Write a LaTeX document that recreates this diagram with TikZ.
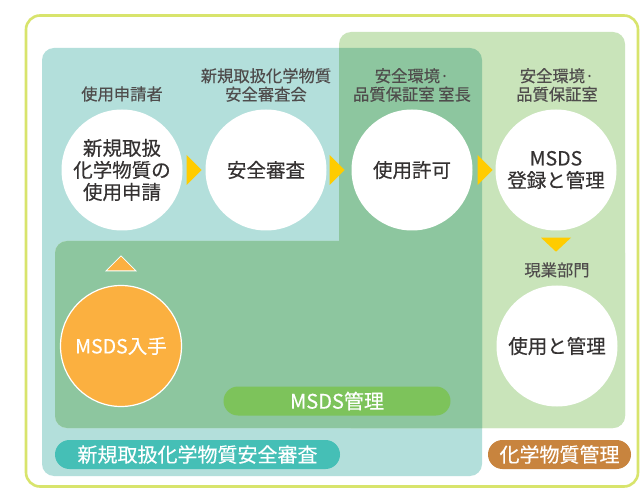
\documentclass[tikz,border=0pt]{standalone}
\usepackage{fontspec}
\setmainfont{Noto Sans CJK JP}[FakeBold=0.35]
\usetikzlibrary{calc}
\definecolor{framecol}{HTML}{D8E46C}
\definecolor{tealbg}{HTML}{B3DFDB}
\definecolor{lgreen}{HTML}{C9E4BA}
\definecolor{dgreen}{HTML}{8DC69F}
\definecolor{arrowy}{HTML}{FFCC00}
\definecolor{orangec}{HTML}{FBB040}
\definecolor{pillgreen}{HTML}{7DC35B}
\definecolor{pillteal}{HTML}{45BFB6}
\definecolor{pillbrown}{HTML}{C8843E}
\definecolor{txtdark}{HTML}{353232}
\definecolor{txtgray}{HTML}{4F4C4C}
\tikzset{
  bubble/.style={circle, fill=white, minimum size=121pt, inner sep=0pt, align=center,
    text=txtdark, font=\fontsize{19.5}{22}\selectfont},
  roletxt/.style={align=center, text=txtgray, inner sep=0pt, font=\fontsize{16.3}{18.5}\selectfont},
  pill/.style={rounded corners=14.5pt, minimum height=29pt, inner sep=0pt, text=white,
    font=\fontsize{20}{22}\selectfont},
  tri/.style={fill=arrowy}
}
\begin{document}
\begin{tikzpicture}[x=1pt,y=-1pt]
\useasboundingbox (0,0) rectangle (643,489);
\fill[white] (0,0) rectangle (643,489);
% outer frame
\draw[framecol, line width=2.6pt, rounded corners=14pt] (26,15.5) rectangle (638,486.5);
% regions
\fill[tealbg, rounded corners=12pt] (42,48) rectangle (482,476);
\fill[lgreen, rounded corners=12pt] (339,32) rectangle (625,428);
\fill[lgreen, rounded corners=12pt] (55,241) rectangle (625,428);
\begin{scope}
  \clip[rounded corners=12pt] (42,48) rectangle (482,476);
  \fill[dgreen, rounded corners=12pt] (339,32) rectangle (625,428);
  \fill[dgreen, rounded corners=12pt] (55,241) rectangle (625,428);
\end{scope}
% role labels
\node[roletxt] (r1) at (122,94) {使用申請者};
\node[roletxt] (r2) at (266,85) {新規取扱化学物質\\安全審査会};
\node[roletxt] (r3) at (412,85) {安全環境·\\品質保証室 室長};
\node[roletxt] (r4) at (557,85) {安全環境·\\品質保証室};
\node[roletxt] (r5) at (557,270) {現業部門};
% circles
\node[bubble] (c1) at (122,170) {新規取扱\\化学物質の\\使用申請};
\node[bubble] (c2) at (266,170) {安全審査};
\node[bubble] (c3) at (412,170) {使用許可};
\node[bubble] (c4) at (556,170) {MSDS\\登録と管理};
\node[bubble] (c5) at (557,346) {使用と管理};
\node[bubble, fill=orangec, draw=white, line width=1.2pt, text=white] (c6) at (121,346) {MSDS入手};
% arrows
\fill[tri] ($(c1.east)+(4,-15)$) -- ++(15,15) -- ++(-15,15) -- cycle;
\fill[tri] ($(c2.east)+(3,-15)$) -- ++(15,15) -- ++(-15,15) -- cycle;
\fill[tri] ($(c3.east)+(5,-15)$) -- ++(15,15) -- ++(-15,15) -- cycle;
\fill[tri] ($(c4.south)+(-15,7)$) -- ++(30,0) -- ++(-15,14) -- cycle;
\filldraw[fill=orangec, draw=white, line width=0.8pt] ($(c6.north)+(-15,-14)$) -- ++(30,0) -- ++(-15,-15) -- cycle;
% pills
\node[pill, fill=pillgreen, minimum width=227pt] (p1) at (337,401) {MSDS管理};
\node[pill, fill=pillteal, minimum width=285pt] (p2) at (197.5,454.5) {新規取扱化学物質安全審査};
\node[pill, fill=pillbrown, minimum width=143pt] (p3) at (559.5,454.5) {化学物質管理};
\end{tikzpicture}
\end{document}
